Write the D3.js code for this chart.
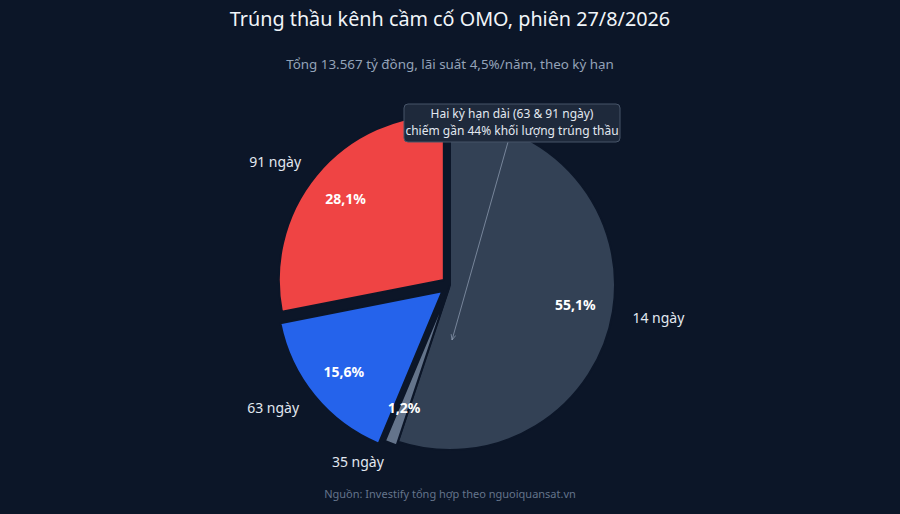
<!DOCTYPE html>
<html>
<head>
<meta charset="utf-8">
<script src="https://cdn.jsdelivr.net/npm/d3@7"></script>
<style>
  body { margin: 0; background: #0c1628; }
  svg { display: block; font-family: "Noto Sans", sans-serif; }
</style>
</head>
<body>
<div id="chart"></div>
<script>
var width = 900, height = 514;

// du lieu
var terms = ["14 ngày", "35 ngày", "63 ngày", "91 ngày"];
var shares = [55.1, 1.2, 15.6, 28.1];
var shareLabels = ["55,1%", "1,2%", "15,6%", "28,1%"];
var colors = ["#334155", "#64748b", "#2563eb", "#ef4444"];
var explode = [0, 4, 10, 8];

var data = terms.map(function(t, i) {
  return {term: t, value: shares[i], label: shareLabels[i], color: colors[i], off: explode[i]};
});

var svg = d3.select("#chart")
  .append("svg")
    .attr("width", width)
    .attr("height", height);

svg.append("rect")
  .attr("width", width).attr("height", height)
  .attr("fill", "#0c1628");

svg.append("text")
  .attr("x", width / 2).attr("y", 26)
  .attr("text-anchor", "middle")
  .attr("fill", "#f1f5f9")
  .style("font-size", "19.8px")
  .text("Trúng thầu kênh cầm cố OMO, phiên 27/8/2026");

svg.append("text")
  .attr("x", width / 2).attr("y", 69)
  .attr("text-anchor", "middle")
  .attr("fill", "#94a3b8")
  .style("font-size", "13.4px")
  .text("Tổng 13.567 tỷ đồng, lãi suất 4,5%/năm, theo kỳ hạn");

svg.append("text")
  .attr("x", width / 2).attr("y", 498)
  .attr("text-anchor", "middle")
  .attr("fill", "#64748b")
  .style("font-size", "11px")
  .text("Nguồn: Investify tổng hợp theo nguoiquansat.vn");

var r = 165;
var g = svg.append("g")
  .attr("transform", "translate(450,285)");

var pie = d3.pie()
  .sort(null)
  .value(function(d) { return d.value; });

var arc = d3.arc().innerRadius(0).outerRadius(r);
var inArc = d3.arc().innerRadius(r * 0.77).outerRadius(r * 0.77);
var outArc = d3.arc().innerRadius(r * 1.12).outerRadius(r * 1.12);

var arcs = pie(data);

function shift(d) {
  var a = (d.startAngle + d.endAngle) / 2;
  return [Math.sin(a) * d.data.off, -Math.cos(a) * d.data.off];
}
function moved(c, d) {
  var s = shift(d);
  return "translate(" + (c[0] + s[0]) + "," + (c[1] + s[1]) + ")";
}

g.selectAll(".slice")
  .data(arcs)
  .enter()
  .append("path")
    .attr("class", "slice")
    .attr("transform", function(d) { return moved([0, 0], d); })
    .attr("d", arc)
    .attr("fill", function(d) { return d.data.color; })
    .attr("stroke", "#0c1628")
    .attr("stroke-width", 2);

g.selectAll(".pct")
  .data(arcs)
  .enter()
  .append("text")
    .attr("class", "pct")
    .attr("transform", function(d) { return moved(inArc.centroid(d), d); })
    .attr("text-anchor", "middle")
    .attr("dy", "0.35em")
    .attr("fill", "#ffffff")
    .style("font-size", "14px")
    .style("font-weight", "bold")
    .text(function(d) { return d.data.label; });

g.selectAll(".term")
  .data(arcs)
  .enter()
  .append("text")
    .attr("class", "term")
    .attr("transform", function(d) { return moved(outArc.centroid(d), d); })
    .attr("text-anchor", function(d) { return (d.startAngle + d.endAngle) / 2 < Math.PI ? "start" : "end"; })
    .attr("dy", function(d) { return (d.startAngle + d.endAngle) / 2 < Math.PI ? "0.6em" : "0.35em"; })
    .attr("fill", "#e2e8f0")
    .style("font-size", "14px")
    .text(function(d) { return d.data.term; });

// chu thich
svg.append("defs").append("marker")
  .attr("id", "arrow")
  .attr("viewBox", "0 0 10 10")
  .attr("refX", 9).attr("refY", 5)
  .attr("markerWidth", 6).attr("markerHeight", 6)
  .attr("orient", "auto")
  .append("path")
    .attr("d", "M0,1L9,5L0,9")
    .attr("fill", "none")
    .attr("stroke", "#94a3b8")
    .attr("stroke-width", 1);

svg.append("line")
  .attr("x1", 508).attr("y1", 142)
  .attr("x2", 452).attr("y2", 340)
  .attr("stroke", "#94a3b8")
  .attr("stroke-opacity", 0.7)
  .attr("stroke-width", 1)
  .attr("marker-end", "url(#arrow)");

svg.append("rect")
  .attr("x", 404).attr("y", 104)
  .attr("width", 216).attr("height", 38)
  .attr("rx", 4)
  .attr("fill", "#1e293b")
  .attr("stroke", "#475569")
  .attr("stroke-width", 1);

var note = svg.append("text")
  .attr("text-anchor", "middle")
  .attr("fill", "#e2e8f0")
  .style("font-size", "12px");
note.append("tspan").attr("x", 512).attr("y", 118).text("Hai kỳ hạn dài (63 & 91 ngày)");
note.append("tspan").attr("x", 512).attr("y", 135).text("chiếm gần 44% khối lượng trúng thầu");
</script>
</body>
</html>
